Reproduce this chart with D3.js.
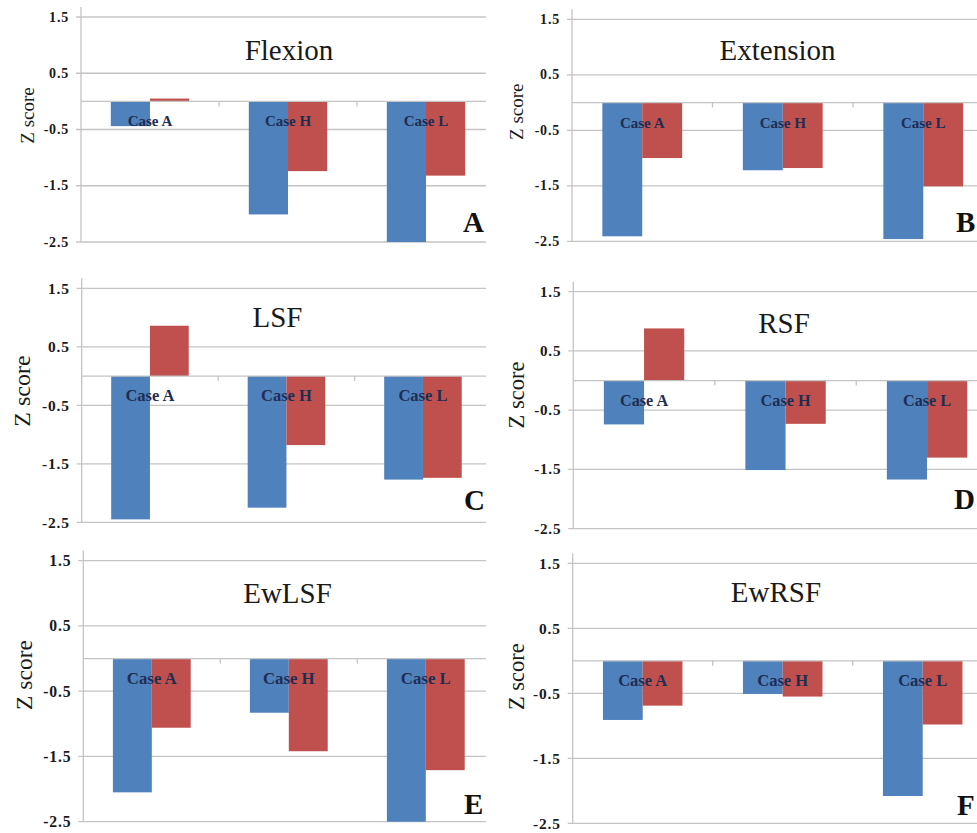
<!DOCTYPE html>
<html>
<head>
<meta charset="utf-8">
<script src="https://cdn.jsdelivr.net/npm/d3@7"></script>
<style>
  html, body { margin: 0; padding: 0; background: #fff; }
  svg { display: block; font-family: "Liberation Serif", "Times New Roman", serif; }
</style>
</head>
<body>
<svg id="chart" width="977" height="833"></svg>
<script>
// ---------- data ----------
const cases = ["Case A", "Case H", "Case L"];
const series = ["Series 1", "Series 2"];
const panelTitles = ["Flexion", "Extension", "LSF", "RSF", "EwLSF", "EwRSF"];
const panelLetters = ["A", "B", "C", "D", "E", "F"];
const yTickValues = [1.5, 0.5, -0.5, -1.5, -2.5];
const yTickLabels = ["1.5", "0.5", "-0.5", "-1.5", "-2.5"];
const yAxisTitle = "Z score";

const flexionBlue   = [-0.44, -2.01, -2.50];
const flexionRed    = [ 0.05, -1.24, -1.32];
const extensionBlue = [-2.41, -1.22, -2.46];
const extensionRed  = [-1.00, -1.18, -1.51];
const lsfBlue       = [-2.45, -2.25, -1.77];
const lsfRed        = [ 0.86, -1.18, -1.74];
const rsfBlue       = [-0.74, -1.51, -1.67];
const rsfRed        = [ 0.88, -0.73, -1.30];
const ewlsfBlue     = [-2.05, -0.83, -2.50];
const ewlsfRed      = [-1.06, -1.42, -1.71];
const ewrsfBlue     = [-0.91, -0.51, -2.08];
const ewrsfRed      = [-0.69, -0.55, -0.98];

const panelValues = [
  [flexionBlue, flexionRed],
  [extensionBlue, extensionRed],
  [lsfBlue, lsfRed],
  [rsfBlue, rsfRed],
  [ewlsfBlue, ewlsfRed],
  [ewrsfBlue, ewrsfRed]
];

// ---------- layout (pixel geometry per panel) ----------
const layout = [
  {axisX: 81,    yTop: 17,    yBot: 242,   band: 138,   right: 486, titleX: 289,   titleY: 60,    letterX: 463, letterY: 232,   zx: 27,    zy: 115.5, zs: 19,   fs: 1.0},
  {axisX: 572,   yTop: 19.3,  yBot: 241.3, band: 140.5, right: 977, titleX: 777.5, titleY: 60,    letterX: 956, letterY: 231.7, zx: 516.7, zy: 111.7, zs: 19,   fs: 1.0},
  {axisX: 81.7,  yTop: 288.3, yBot: 522.3, band: 136.5, right: 486, titleX: 277.5, titleY: 326.7, letterX: 464, letterY: 510,   zx: 22,    zy: 391,   zs: 24,   fs: 1.1},
  {axisX: 573.3, yTop: 291.7, yBot: 528.7, band: 141.5, right: 977, titleX: 784,   titleY: 333.3, letterX: 954, letterY: 509.3, zx: 516,   zy: 395,   zs: 22.5, fs: 1.08},
  {axisX: 83.3,  yTop: 560.7, yBot: 821.7, band: 137,   right: 486, titleX: 287.5, titleY: 603.3, letterX: 464, letterY: 814,   zx: 24,    zy: 675,   zs: 23.5, fs: 1.12},
  {axisX: 572.7, yTop: 563.3, yBot: 823.3, band: 140,   right: 977, titleX: 776,   titleY: 601.7, letterX: 957, letterY: 815,   zx: 516,   zy: 676.7, zs: 22.5, fs: 1.1}
];

const colors = ["#4f81bd", "#c0504d"];
const gridColor = "#c4c4c4";

const svg = d3.select("#chart");
svg.append("rect").attr("width", 977).attr("height", 833).attr("fill", "#fff");

panelTitles.forEach((title, i) => {
  const L = layout[i];
  const vals = panelValues[i];
  const g = svg.append("g");

  const y = d3.scaleLinear().domain([-2.5, 1.5]).range([L.yBot, L.yTop]);
  const x = d3.scaleBand().domain(cases).range([L.axisX, L.axisX + 3 * L.band]).paddingInner(0).paddingOuter(0);
  const barW = L.band * 0.284;
  const xs = d3.scaleBand().domain(series).range([-barW, barW]);

  // gridlines
  g.selectAll("line.grid").data(yTickValues).join("line")
    .attr("x1", L.axisX - 5).attr("x2", L.right)
    .attr("y1", d => y(d)).attr("y2", d => y(d))
    .attr("stroke", gridColor).attr("stroke-width", 1.3);

  // bars
  const rows = [];
  cases.forEach((c, ci) => series.forEach((s, si) => rows.push({c, s, si, v: vals[si][ci]})));
  g.selectAll("rect.bar").data(rows).join("rect")
    .attr("x", d => x(d.c) + x.bandwidth() / 2 + xs(d.s))
    .attr("width", xs.bandwidth())
    .attr("y", d => Math.min(y(0), y(d.v)))
    .attr("height", d => Math.abs(y(d.v) - y(0)))
    .attr("fill", d => colors[d.si]);

  // zero (category) axis line
  g.append("line")
    .attr("x1", L.axisX).attr("x2", L.right)
    .attr("y1", y(0)).attr("y2", y(0))
    .attr("stroke", gridColor).attr("stroke-width", 1.3);

  // category ticks
  g.selectAll("line.ctick").data(cases.slice(1)).join("line")
    .attr("x1", d => x(d)).attr("x2", d => x(d))
    .attr("y1", y(0)).attr("y2", y(0) + 5)
    .attr("stroke", gridColor).attr("stroke-width", 1.3);

  // value axis line
  g.append("line")
    .attr("x1", L.axisX).attr("x2", L.axisX)
    .attr("y1", L.yTop - 10).attr("y2", y(-2.5))
    .attr("stroke", gridColor).attr("stroke-width", 1.3);

  // y tick labels
  g.selectAll("text.ytick").data(yTickValues).join("text")
    .attr("x", L.axisX - 12).attr("y", d => y(d))
    .attr("text-anchor", "end").attr("dominant-baseline", "central")
    .attr("font-size", 14 * L.fs).attr("font-weight", "bold")
    .attr("letter-spacing", 0.8)
    .attr("fill", "#1a1a1a")
    .text((d, k) => yTickLabels[k]);

  // category labels
  g.selectAll("text.cat").data(cases).join("text")
    .attr("x", d => x(d) + x.bandwidth() / 2)
    .attr("y", y(0) + 25)
    .attr("text-anchor", "middle")
    .attr("font-size", 15 * L.fs).attr("font-weight", "bold")
    .attr("fill", "#1e2d52")
    .text(d => d);

  // panel title
  g.append("text")
    .attr("x", L.titleX).attr("y", L.titleY)
    .attr("text-anchor", "middle")
    .attr("font-size", 29).attr("fill", "#1a1a1a")
    .text(title);

  // panel letter
  g.append("text")
    .attr("x", L.letterX).attr("y", L.letterY)
    .attr("font-size", 29).attr("font-weight", "bold").attr("fill", "#111")
    .text(panelLetters[i]);

  // y axis title
  g.append("text")
    .attr("transform", `translate(${L.zx},${L.zy}) rotate(-90)`)
    .attr("text-anchor", "middle").attr("dominant-baseline", "central")
    .attr("font-size", L.zs).attr("fill", "#1a1a1a")
    .text(yAxisTitle);
});
</script>
</body>
</html>
